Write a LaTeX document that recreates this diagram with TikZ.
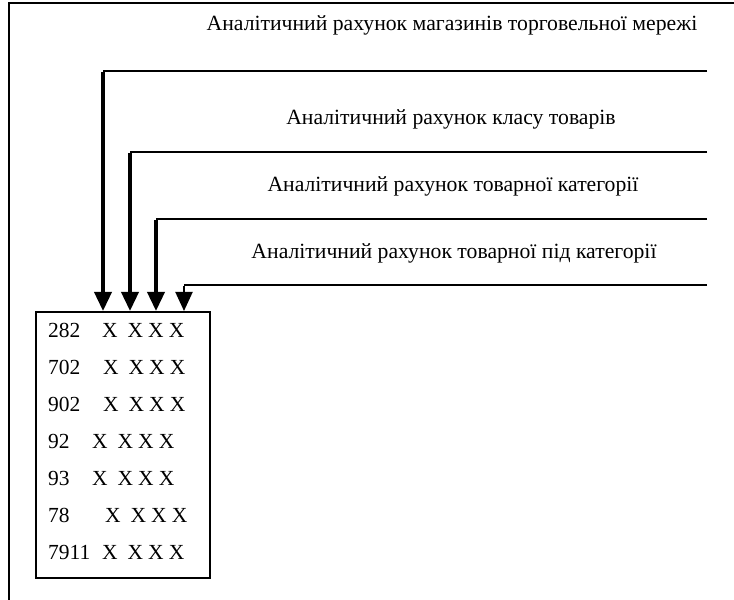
\documentclass[tikz,border=0pt]{standalone}
\usepackage{fontspec}
\setmainfont{Liberation Serif}
\usetikzlibrary{arrows.meta}

\newcommand{\xgroup}{X\hspace{10bp}X\hspace{5bp}X\hspace{5bp}X}

\begin{document}
\begin{tikzpicture}[x=1bp,y=-1bp,
  lbl/.style={anchor=base,inner sep=0pt,font=\fontsize{21.7bp}{26bp}\selectfont},
  cell/.style={anchor=base west,inner sep=0pt,font=\fontsize{21.5bp}{26bp}\selectfont},
  feed/.style={line width=2bp},
  drop/.style={line width=3.6bp,-{Triangle[width=17bp,length=19bp]}},
  thindrop/.style={line width=2bp,-{Triangle[width=17bp,length=19bp]}}]
  \useasboundingbox (0,0) rectangle (734,600);

  % open outer frame
  \coordinate (ftop) at (734,3);
  \coordinate (fcorner) at (9,3);
  \coordinate (fbot) at (9,600);
  \draw[line width=1.5bp] (ftop) -- (fcorner) -- (fbot);

  % account code box
  \node[draw,line width=2bp,minimum width=174bp,minimum height=266bp,inner sep=0pt] (acc) at (123,445) {};

  % headings
  \node[lbl] (t1) at (452,31) {Аналітичний рахунок магазинів торговельної мережі};
  \node[lbl] (t2) at (451,125) {Аналітичний рахунок класу товарів};
  \node[lbl] (t3) at (453,192) {Аналітичний рахунок товарної категорії};
  \node[lbl] (t4) at (454,258) {Аналітичний рахунок товарної під категорії};

  % feeder lines
  \coordinate (r1) at (707,71);  \coordinate (c1) at (103,71);
  \coordinate (r2) at (707,152); \coordinate (c2) at (130,152);
  \coordinate (r3) at (707,219); \coordinate (c3) at (156,219);
  \coordinate (r4) at (707,285); \coordinate (c4) at (184,285);

  \draw[feed] (r1) -- (c1);
  \draw[feed] (r2) -- (c2);
  \draw[feed] (r3) -- (c3);
  \draw[feed] (r4) -- (c4);

  \draw[drop] ([yshift=-1bp]c1) -- (acc.north -| c1);
  \draw[drop] ([yshift=-1bp]c2) -- (acc.north -| c2);
  \draw[drop] ([yshift=-1bp]c3) -- (acc.north -| c3);
  \draw[thindrop] ([yshift=-1bp]c4) -- (acc.north -| c4);

  % account codes
  \node[cell] (n1) at (48,337) {282};  \node[cell] (x1) at (102,337) {\xgroup};
  \node[cell] (n2) at (48,374) {702};  \node[cell] (x2) at (103,374) {\xgroup};
  \node[cell] (n3) at (48,411) {902};  \node[cell] (x3) at (103,411) {\xgroup};
  \node[cell] (n4) at (48,448) {92};   \node[cell] (x4) at (92,448) {\xgroup};
  \node[cell] (n5) at (48,485) {93};   \node[cell] (x5) at (92,485) {\xgroup};
  \node[cell] (n6) at (48,522) {78};   \node[cell] (x6) at (105,522) {\xgroup};
  \node[cell] (n7) at (48,559) {7911}; \node[cell] (x7) at (102,559) {\xgroup};
\end{tikzpicture}
\end{document}
